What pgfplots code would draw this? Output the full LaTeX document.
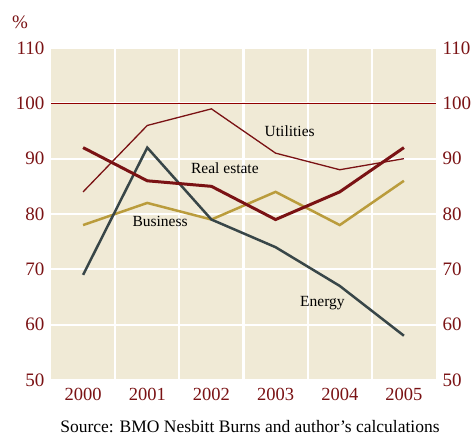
\documentclass[border=0pt]{standalone}
\usepackage{pgfplots}
\pgfplotsset{compat=1.18}
\usepackage{fontspec}
\setmainfont{Liberation Serif}
\definecolor{bg}{RGB}{240,234,214}
\definecolor{dred}{RGB}{122,18,20}
\definecolor{lred}{RGB}{145,0,0}
\definecolor{energy}{RGB}{56,70,72}
\definecolor{business}{RGB}{186,156,60}
\begin{document}
\begin{tikzpicture}[x=1pt,y=1pt]
\pgfplotsset{
  base/.style={
    at={(51pt,57pt)}, anchor=south west,
    scale only axis, width=385pt, height=332pt,
    xmin=-0.5, xmax=5.5, ymin=50, ymax=110,
    ytick={50,60,...,110},
    major tick length=0pt, minor tick length=0pt,
    axis line style={draw=none},
    tick style={draw=none},
    /pgf/number format/assume math mode=true,
    yticklabel style={text=dred, font=\fontsize{19}{21}\selectfont},
  }
}
\begin{axis}[base,
  axis background/.style={fill=bg},
  xtick={0,...,5},
  xticklabels={2000,2001,2002,2003,2004,2005},
  xticklabel style={text=dred, font=\fontsize{18.5}{21}\selectfont, yshift=-5pt},
  minor xtick={0.5,1.5,...,4.5},
  xminorgrids=true, xmajorgrids=false,
  ymajorgrids=true,
  grid style={white, line width=2pt},
  minor grid style={white, line width=2.2pt},
  yticklabel style={xshift=-3pt},
  clip=false,
]
\addplot[color=lred, line width=1.4pt] coordinates {(-0.5,100) (5.5,100)};
\addplot[dred, line width=1.3pt] coordinates {(0,84) (1,96) (2,99) (3,91) (4,88) (5,90)};
\addplot[business, line width=2.5pt] coordinates {(0,78) (1,82) (2,79) (3,84) (4,78) (5,86)};
\addplot[energy, line width=2.5pt] coordinates {(0,69) (1,92) (2,79) (3,74) (4,67) (5,58)};
\addplot[dred, line width=3pt] coordinates {(0,92) (1,86) (2,85) (3,79) (4,84) (5,92)};
\node[font=\fontsize{15.5}{17}\selectfont] at (axis cs:3.22,95) {Utilities};
\node[font=\fontsize{15.5}{17}\selectfont] at (axis cs:2.21,88.3) {Real estate};
\node[font=\fontsize{15.5}{17}\selectfont] at (axis cs:1.2,78.7) {Business};
\node[font=\fontsize{15.5}{17}\selectfont] at (axis cs:3.73,63.9) {Energy};
\node[font=\fontsize{19}{21}\selectfont, text=dred] at (rel axis cs:0,1) [xshift=-31pt, yshift=26pt] {\%};
\end{axis}
\begin{axis}[base,
  axis y line*=right,
  xtick=\empty,
  yticklabel style={xshift=3pt},
]
\end{axis}
\node[font=\fontsize{17.5}{20}\selectfont] at (250pt,10pt) {Source: BMO Nesbitt Burns and author’s calculations};
\pgfresetboundingbox
\path[use as bounding box] (0,0) rectangle (476pt,437pt);
\end{tikzpicture}
\end{document}
